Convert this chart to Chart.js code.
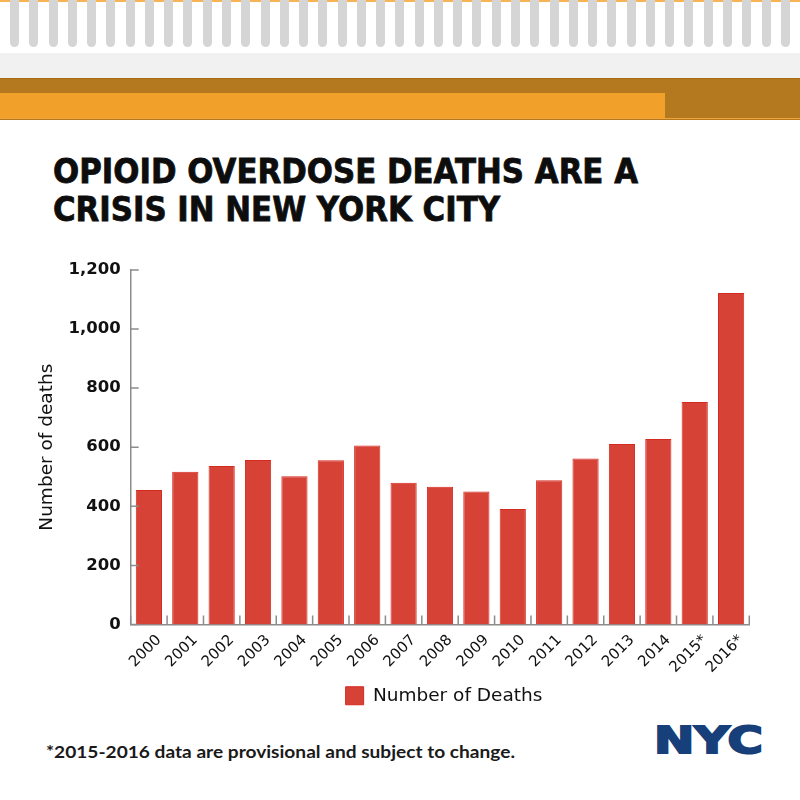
<!DOCTYPE html>
<html>
<head>
<meta charset="utf-8">
<script src="https://cdn.jsdelivr.net/npm/chart.js@4.4.1/dist/chart.umd.min.js"></script>
<style>
  html, body { margin: 0; padding: 0; background: #fff; }
  body { width: 800px; height: 800px; position: relative; overflow: hidden; }
  .abs { position: absolute; }
  .comb { position: absolute; top: 0; width: 9px; height: 47px; background: #d5d5d5; border-radius: 0 0 4.5px 4.5px; }
  .fit { position: absolute; white-space: nowrap; transform-origin: 0 0; }
  .title { font-family: "DejaVu Sans", sans-serif; font-weight: bold; font-size: 33px; line-height: 38px;
           color: #0d0d0d; -webkit-text-stroke: 0.8px #0d0d0d; left: 53px; }
  .note { font-family: Lato, sans-serif; font-weight: 700; font-size: 17px; line-height: 20px; color: #1a1a1a;
          left: 46px; top: 742px; }
  .logo { font-family: "DejaVu Sans", sans-serif; font-weight: bold; font-size: 37px; line-height: 37px;
          color: #173f7a; -webkit-text-stroke: 2px #173f7a; left: 654px; top: 722px; }
  #wrap { position: absolute; left: 0; top: 250px; width: 860px; height: 465px; }
</style>
</head>
<body>
<div class="abs" style="left:0;top:0;width:800px;height:2px;background:#f6b455"></div>
<div id="combs"></div>
<div class="abs" style="left:0;top:53px;width:800px;height:25px;background:#f1f1f1"></div>
<div class="abs" style="left:0;top:78px;width:800px;height:41px;background:#b4781f;border-top:1px solid #a76b14"></div>
<div class="abs" style="left:0;top:93px;width:665px;height:25px;background:#f1a02a"></div>
<div class="abs" style="left:0;top:118px;width:800px;height:1px;background:#eea43a"></div>

<div class="fit title" style="top:153px" data-w="585">OPIOID OVERDOSE DEATHS ARE A</div>
<div class="fit title" style="top:191px" data-w="447">CRISIS IN NEW YORK CITY</div>

<div id="wrap"><canvas id="chart" width="860" height="465"></canvas></div>

<div class="fit note" data-w="469">*2015-2016 data are provisional and subject to change.</div>
<div class="fit logo" data-w="109">NYC</div>

<script>
// data
const years = ['2000', '2001', '2002', '2003', '2004', '2005', '2006', '2007', '2008',
               '2009', '2010', '2011', '2012', '2013', '2014', '2015*', '2016*'];
const deaths = [455, 517, 536, 557, 502, 556, 606, 480, 466, 450, 391, 488, 562, 611, 628, 753, 1122];
const yTicks = [0, 200, 400, 600, 800, 1000, 1200];
const seriesName = 'Number of Deaths';
const yTitle = 'Number of deaths';

// header comb
const combs = document.getElementById('combs');
for (let k = 0; k < 41; k++) {
  const d = document.createElement('div');
  d.className = 'comb';
  d.style.left = (10 + k * 19.27) + 'px';
  combs.appendChild(d);
}

function fitText() {
  document.querySelectorAll('.fit').forEach(el => {
    el.style.transform = 'none';
    const w = el.getBoundingClientRect().width;
    el.style.transform = 'scaleX(' + (el.dataset.w / w) + ')';
  });
}
fitText();
if (document.fonts) document.fonts.ready.then(fitText);

const axisGrey = '#8c8c8c';

// little tick marks pointing into the plot, like the original
const innerTicks = {
  id: 'innerTicks',
  afterDatasetsDraw(chart) {
    const { ctx, chartArea: a, scales: { x, y } } = chart;
    ctx.save();
    ctx.strokeStyle = axisGrey;
    ctx.lineWidth = 1.5;
    ctx.beginPath();
    y.ticks.forEach((t, i) => {
      const py = y.getPixelForTick(i);
      ctx.moveTo(a.left, py);
      ctx.lineTo(a.left + 8, py);
    });
    for (let i = 0; i <= years.length; i++) {
      const px = x.getPixelForValue(i - 0.5);
      ctx.moveTo(px, a.bottom);
      ctx.lineTo(px, a.bottom - 9);
    }
    ctx.stroke();
    ctx.restore();
  }
};

new Chart(document.getElementById('chart'), {
  type: 'bar',
  data: {
    labels: years,
    datasets: [{
      label: seriesName,
      data: deaths,
      backgroundColor: '#d74237',
      borderColor: '#d42a20',
      borderWidth: 1,
      barPercentage: 0.72,
      categoryPercentage: 1
    }]
  },
  options: {
    responsive: false,
    animation: false,
    devicePixelRatio: 1,
    layout: { padding: { left: 28, right: 0, top: 19, bottom: 0 } },
    plugins: {
      tooltip: { enabled: false },
      legend: {
        position: 'bottom',
        labels: {
          boxWidth: 18, boxHeight: 18, padding: 10, color: '#111',
          font: { family: '"DejaVu Sans", sans-serif', size: 18.5 }
        }
      }
    },
    scales: {
      x: {
        grid: { display: false, drawTicks: false },
        border: { display: true, color: axisGrey, width: 1.5 },
        ticks: {
          autoSkip: false, minRotation: 45, maxRotation: 45,
          labelOffset: 10, padding: 7, color: '#111',
          font: { family: '"DejaVu Sans", sans-serif', size: 15 }
        },
        afterFit(s) { s.height = 52; }
      },
      y: {
        min: 0, max: 1200,
        afterBuildTicks(s) { s.ticks = yTicks.map(v => ({ value: v })); },
        grid: { display: false, drawTicks: false },
        border: { display: true, color: axisGrey, width: 1.5 },
        ticks: {
          padding: 10, color: '#111',
          font: { family: '"DejaVu Sans", sans-serif', size: 16.5, weight: 'bold' },
          callback: v => v.toLocaleString('en-US')
        },
        title: {
          display: true, text: yTitle, color: '#111',
          padding: { top: 8, bottom: 0 },
          font: { family: '"DejaVu Sans", sans-serif', size: 18.5 }
        },
        afterFit(s) { s.width = 102.7; }
      },
      // empty axis on the right, only there to hold the plot where it sits in the original
      y2: {
        position: 'right',
        grid: { display: false, drawTicks: false },
        border: { display: false },
        ticks: { display: false },
        afterFit(s) { s.width = 110.7; }
      }
    }
  },
  plugins: [innerTicks]
});
</script>
</body>
</html>
